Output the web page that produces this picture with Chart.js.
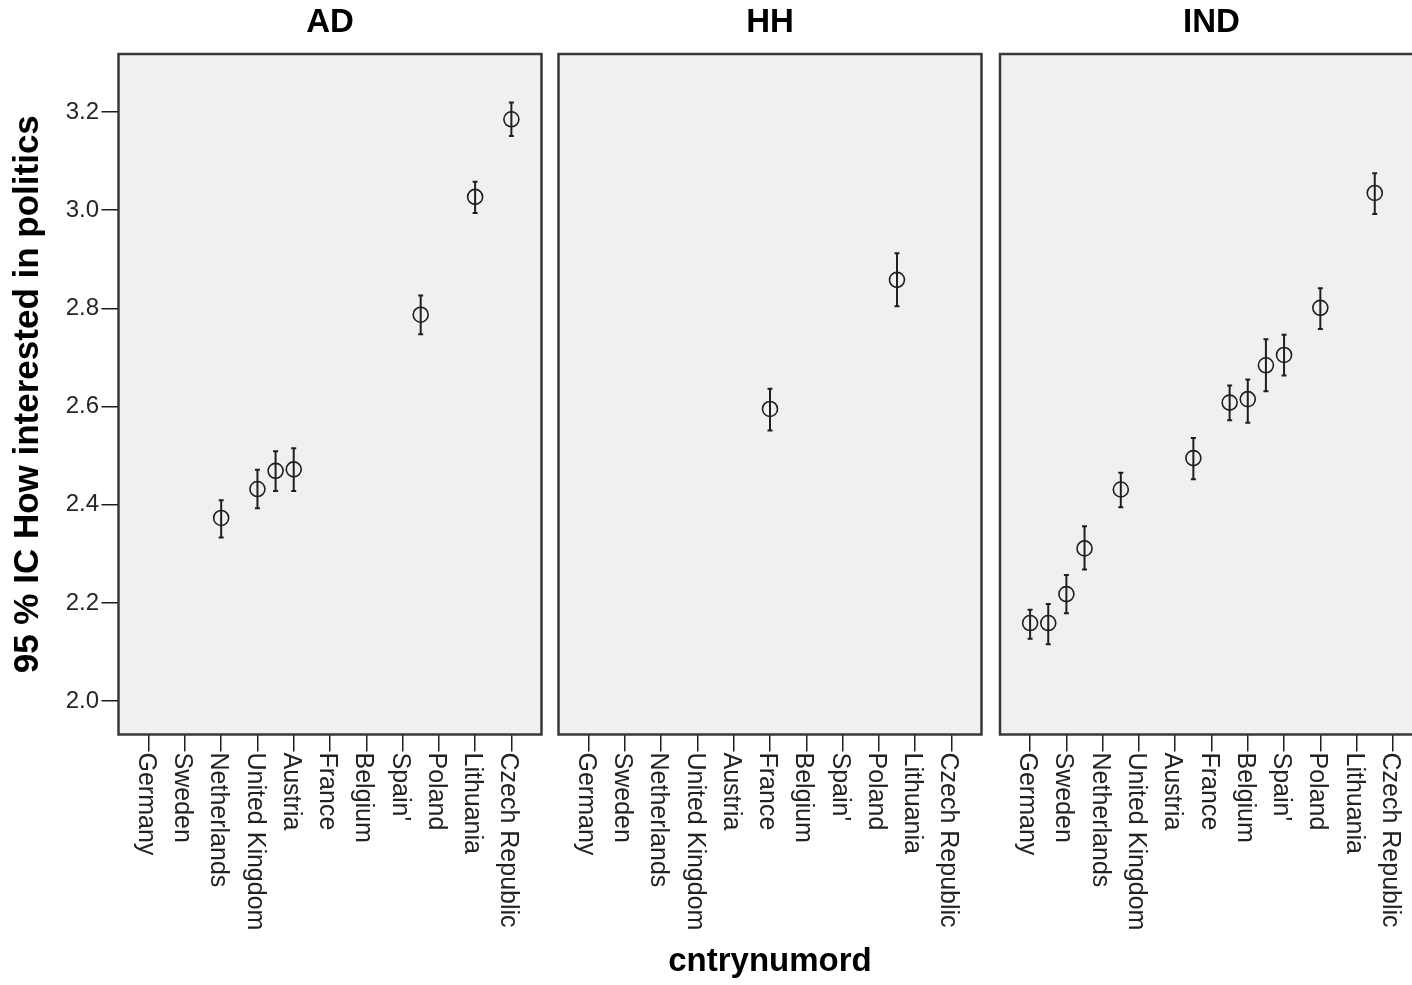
<!DOCTYPE html>
<html>
<head>
<meta charset="utf-8">
<script src="https://cdn.jsdelivr.net/npm/chart.js@4.4.0/dist/chart.umd.min.js"></script>
<style>
  html, body { margin: 0; padding: 0; background: #fff; overflow: hidden; }
  body { position: relative; width: 1412px; height: 985px; }
  canvas { position: absolute; top: 0; }
</style>
</head>
<body>
<canvas id="chartAD" width="560" height="985" style="left:0px"></canvas>
<canvas id="chartHH" width="450" height="985" style="left:545px"></canvas>
<canvas id="chartIND" width="455" height="985" style="left:985px"></canvas>
<script>
// category labels (cntrynumord 1..11)
const countries = ["Germany", "Sweden", "Netherlands", "United Kingdom", "Austria", "France",
  "Belgium", "Spain'", "Poland", "Lithuania", "Czech Republic"];
const yTicks = [2.0, 2.2, 2.4, 2.6, 2.8, 3.0, 3.2];

// AD
const adX = [3, 4, 4.5, 5, 8.5, 10, 11];
const adMean = [2.373, 2.432, 2.469, 2.472, 2.787, 3.027, 3.185];
const adLow = [2.333, 2.393, 2.428, 2.428, 2.747, 2.994, 3.151];
const adHigh = [2.409, 2.471, 2.509, 2.515, 2.826, 3.058, 3.219];

// HH
const hhX = [6, 9.5];
const hhMean = [2.595, 2.858];
const hhLow = [2.551, 2.804];
const hhHigh = [2.636, 2.912];

// IND
const indX = [1, 1.5, 2, 2.5, 3.5, 5.5, 6.5, 7, 7.5, 8, 9, 10.5];
const indMean = [2.159, 2.159, 2.218, 2.311, 2.431, 2.495, 2.608, 2.615, 2.684, 2.705, 2.801, 3.035];
const indLow = [2.127, 2.116, 2.179, 2.268, 2.395, 2.452, 2.572, 2.567, 2.631, 2.663, 2.758, 2.992];
const indHigh = [2.186, 2.198, 2.257, 2.356, 2.465, 2.536, 2.643, 2.655, 2.737, 2.746, 2.841, 3.075];

const family = '"Liberation Sans", Arial, sans-serif';
const ink = "#1e1e1e";

// grey plot box, frame and rotated country labels
const panelPlugin = {
  id: "panel",
  beforeDraw(chart) {
    const { ctx, chartArea: a } = chart;
    ctx.save();
    ctx.fillStyle = "#f0f0f0";
    ctx.fillRect(a.left, a.top, a.right - a.left, a.bottom - a.top);
    ctx.restore();
  },
  beforeDatasetsDraw(chart) {
    const { ctx, chartArea: a } = chart;
    ctx.save();
    ctx.strokeStyle = "#383838";
    ctx.lineWidth = 2.5;
    ctx.strokeRect(a.left, a.top, a.right - a.left, a.bottom - a.top);
    ctx.restore();
  },
  afterDraw(chart) {
    const { ctx, chartArea: a } = chart;
    const x = chart.scales.x;
    ctx.save();
    ctx.font = "25px " + family;
    ctx.fillStyle = "#222";
    ctx.textAlign = "left";
    ctx.textBaseline = "middle";
    x.ticks.forEach((t) => {
      ctx.save();
      ctx.translate(x.getPixelForValue(t.value) - 3, a.bottom + 18);
      ctx.rotate(Math.PI / 2);
      ctx.fillText(countries[t.value - 1], 0, 0);
      ctx.restore();
    });
    ctx.restore();
  },
};

function barData(xs, lows, highs) {
  const out = [];
  xs.forEach((x, i) => {
    out.push({ x: x, y: lows[i] }, { x: x, y: highs[i] }, { x: x, y: null });
  });
  return out;
}

function makeChart(id, title, xs, means, lows, highs, cfg) {
  return new Chart(document.getElementById(id), {
    type: "scatter",
    data: {
      datasets: [
        {
          label: title + " CI",
          data: barData(xs, lows, highs),
          showLine: true,
          spanGaps: false,
          borderColor: ink,
          borderWidth: 2,
          pointStyle: "line",
          pointRadius: 2.5,
          pointBorderWidth: 2,
          pointBorderColor: ink,
        },
        {
          label: title,
          data: xs.map((x, i) => ({ x: x, y: means[i] })),
          pointStyle: "circle",
          pointRadius: 7.5,
          pointBorderWidth: 1.6,
          pointBorderColor: ink,
          pointBackgroundColor: "rgba(0,0,0,0)",
        },
      ],
    },
    options: {
      responsive: false,
      animation: false,
      events: [],
      layout: { padding: { left: cfg.padLeft, right: cfg.padRight, top: 0, bottom: 0 } },
      plugins: {
        legend: { display: false },
        tooltip: { enabled: false },
        title: {
          display: true,
          text: title,
          fullSize: false,
          color: "#000",
          font: { family: family, size: 33, weight: "bold", lineHeight: 1.2 },
          padding: { top: 3, bottom: 11.4 },
        },
      },
      scales: {
        x: {
          type: "linear",
          min: 0.17,
          max: 11.83,
          afterBuildTicks: (s) => {
            s.ticks = countries.map((c, i) => ({ value: i + 1 }));
          },
          afterFit: (s) => {
            s.height = 250.5;
          },
          ticks: { display: false, autoSkip: false },
          grid: { drawOnChartArea: false, drawTicks: true, tickLength: 17, color: ink, lineWidth: 1.5 },
          border: { display: false },
          title: {
            display: cfg.xTitle,
            text: "cntrynumord",
            color: "#000",
            font: { family: family, size: 33, weight: "bold", lineHeight: 1.2 },
            padding: { top: 0, bottom: 3 },
          },
        },
        y: {
          type: "linear",
          display: cfg.showY,
          min: 1.932,
          max: 3.318,
          afterBuildTicks: (s) => {
            s.ticks = yTicks.map((v) => ({ value: v }));
          },
          afterFit: (s) => {
            s.width = cfg.showY ? 118.5 : 0;
          },
          ticks: {
            callback: (v) => v.toFixed(1),
            color: "#262626",
            font: { family: family, size: 24 },
            padding: 2.5,
          },
          grid: { drawOnChartArea: false, drawTicks: true, tickLength: 17, color: ink, lineWidth: 1.5 },
          border: { display: false },
          title: {
            display: true,
            text: "95 % IC How interested in politics",
            color: "#000",
            font: { family: family, size: 35, weight: "bold", lineHeight: 1.2 },
            padding: { top: 7, bottom: 0 },
          },
        },
      },
    },
    plugins: [panelPlugin],
  });
}

makeChart("chartAD", "AD", adX, adMean, adLow, adHigh, { showY: true, xTitle: false, padLeft: 0, padRight: 18.5 });
makeChart("chartHH", "HH", hhX, hhMean, hhLow, hhHigh, { showY: false, xTitle: true, padLeft: 13.5, padRight: 13.5 });
makeChart("chartIND", "IND", indX, indMean, indLow, indHigh, { showY: false, xTitle: false, padLeft: 15, padRight: 17 });
</script>
</body>
</html>
